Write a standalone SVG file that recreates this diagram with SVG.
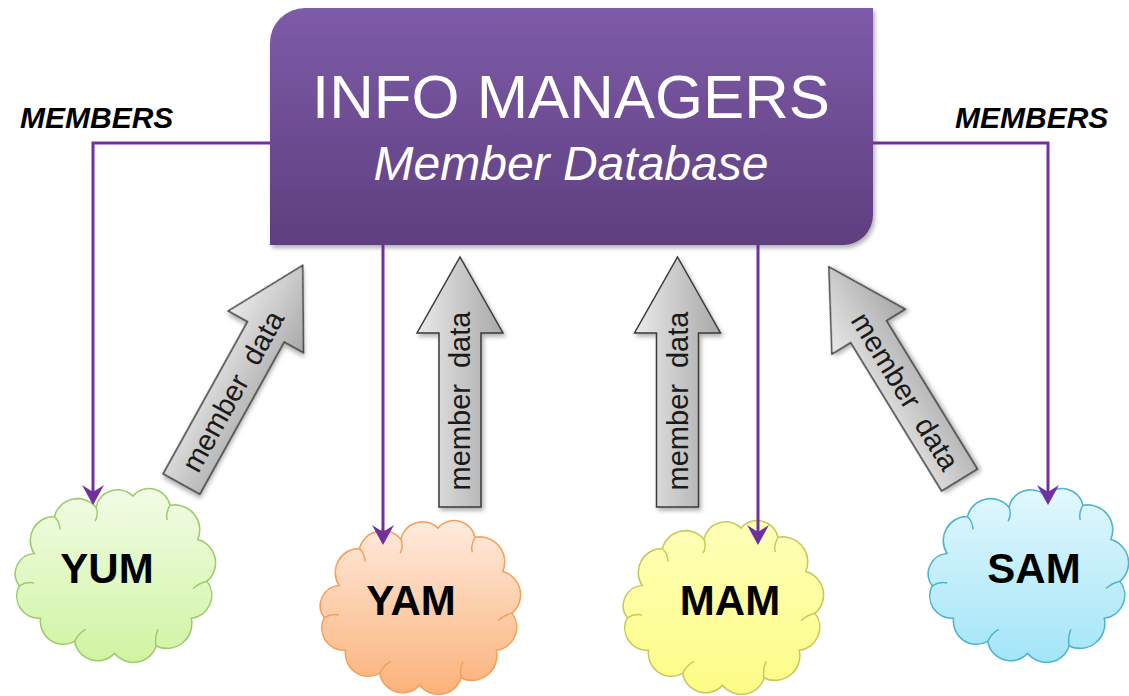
<svg xmlns="http://www.w3.org/2000/svg" xmlns:xlink="http://www.w3.org/1999/xlink" width="1129" height="696" viewBox="0 0 1129 696">
<style>
.cl-text{font-family:"Liberation Sans",Arial,sans-serif;font-weight:bold;font-size:42px;fill:#000;text-anchor:middle}
.members{font-family:"Liberation Sans",Arial,sans-serif;font-weight:bold;font-style:italic;font-size:30px;fill:#000}
.md{font-family:"Liberation Sans",Arial,sans-serif;font-size:29px;fill:#1a1a1a;text-anchor:middle;word-spacing:8px}
.conn{fill:none;stroke:#7030A0;stroke-width:3}
.barrow{fill:url(#gGray);stroke:#3a3a3a;stroke-width:1.5;stroke-linejoin:miter}
.crease{fill:none;stroke-width:1.6}
</style>
<defs>
<linearGradient id="gBox" x1="0" y1="0" x2="0" y2="1">
<stop offset="0" stop-color="#7D5BA8"/><stop offset="1" stop-color="#5E3F7F"/>
</linearGradient>
<linearGradient id="gGray" x1="0" y1="0" x2="1" y2="0">
<stop offset="0" stop-color="#EAEAEA"/><stop offset="1" stop-color="#A8A8A8"/>
</linearGradient>
<linearGradient id="gYum" x1="0" y1="0" x2="0" y2="1"><stop offset="0" stop-color="#F2FCE6"/><stop offset="1" stop-color="#D0F4A2"/></linearGradient>
<linearGradient id="gYam" x1="0" y1="0" x2="0" y2="1"><stop offset="0" stop-color="#FEEBDD"/><stop offset="1" stop-color="#FBB27A"/></linearGradient>
<linearGradient id="gMam" x1="0" y1="0" x2="0" y2="1"><stop offset="0" stop-color="#FFFFB8"/><stop offset="1" stop-color="#FDFC86"/></linearGradient>
<linearGradient id="gSam" x1="0" y1="0" x2="0" y2="1"><stop offset="0" stop-color="#E2F8FD"/><stop offset="1" stop-color="#A3E5F8"/></linearGradient>
<filter id="sh" x="-10%" y="-10%" width="130%" height="130%"><feDropShadow dx="2" dy="3" stdDeviation="2" flood-color="#000" flood-opacity="0.3"/></filter>
<path id="cloud" d="M18,70 A26,26 0 0 1 40,30 A26,26 0 0 1 85,20 A24,24 0 0 1 125,8 A23,23 0 0 1 165,18 A27,27 0 0 1 195,55 A26,26 0 0 1 205,100 A25,25 0 0 1 188,140 A27,27 0 0 1 150,170 A26,26 0 0 1 105,178 A25,25 0 0 1 62,165 A25,25 0 0 1 25,140 A24,24 0 0 1 2,105 A22,22 0 0 1 18,70 Z"/>
<path id="creases" d="M85,20 Q88,28 84,35 M165,18 Q160,26 162,34 M205,100 Q196,102 190,108 M150,170 Q148,160 152,152 M62,165 Q66,156 74,152 M2,105 Q10,100 18,102 M40,30 Q46,36 46,44"/>
<path id="barrow" d="M-21,0 L-21,-174 L-43,-174 L0,-250 L43,-174 L21,-174 L21,0 Z"/>
<marker id="ah" viewBox="-24 -12 26 24" refX="-3" refY="0" markerWidth="26" markerHeight="24" markerUnits="userSpaceOnUse" orient="auto">
<path d="M0,0 L-20,-11 L-13,0 L-20,11 Z" fill="#7030A0"/>
</marker>
</defs>
<rect width="1129" height="696" fill="#fff"/>

<g id="yum">
<g transform="translate(17.4,488.7) scale(0.925)">
<use xlink:href="#cloud" fill="url(#gYum)" stroke="#9DCC6C" stroke-width="1.7"/>
<use xlink:href="#creases" class="crease" stroke="#9DCC6C"/>
</g>
<text class="cl-text" x="107" y="583">YUM</text>
</g>
<g id="yam">
<g transform="translate(322.4,520.7) scale(0.925)">
<use xlink:href="#cloud" fill="url(#gYam)" stroke="#F5A05A" stroke-width="1.7"/>
<use xlink:href="#creases" class="crease" stroke="#F5A05A"/>
</g>
<text class="cl-text" x="411" y="615">YAM</text>
</g>
<g id="mam">
<g transform="translate(625.4,520.7) scale(0.925)">
<use xlink:href="#cloud" fill="url(#gMam)" stroke="#C2CB5C" stroke-width="1.7"/>
<use xlink:href="#creases" class="crease" stroke="#C2CB5C"/>
</g>
<text class="cl-text" x="730" y="615">MAM</text>
</g>
<g id="sam">
<g transform="translate(930.4,488.7) scale(0.925)">
<use xlink:href="#cloud" fill="url(#gSam)" stroke="#4FB3CF" stroke-width="1.7"/>
<use xlink:href="#creases" class="crease" stroke="#4FB3CF"/>
</g>
<text class="cl-text" x="1034" y="583">SAM</text>
</g>

<g id="info-managers">
<path d="M305,8 H873 V215 A30,30 0 0 1 843,245 H270 V43 A35,35 0 0 1 305,8 Z" fill="url(#gBox)" filter="url(#sh)"/>
<text x="571" y="118" text-anchor="middle" font-family="'Liberation Sans',Arial,sans-serif" font-size="61" fill="#fff" textLength="518" lengthAdjust="spacingAndGlyphs">INFO MANAGERS</text>
<text x="571" y="180" text-anchor="middle" font-family="'Liberation Sans',Arial,sans-serif" font-style="italic" font-size="48" fill="#fff">Member Database</text>
</g>

<g id="members-left"><text class="members" x="20" y="128">MEMBERS</text></g>
<g id="members-right"><text class="members" x="955" y="128">MEMBERS</text></g>

<g id="data-yum" transform="translate(181.5,484) rotate(29)">
<use xlink:href="#barrow" class="barrow" filter="url(#sh)"/>
<text class="md" transform="translate(0,-106) rotate(-90)" y="10">member data</text>
</g>
<g id="data-yam" transform="translate(460,507)">
<use xlink:href="#barrow" class="barrow" filter="url(#sh)"/>
<text class="md" transform="translate(0,-106) rotate(-90)" y="10">member data</text>
</g>
<g id="data-mam" transform="translate(677.5,507)">
<use xlink:href="#barrow" class="barrow" filter="url(#sh)"/>
<text class="md" transform="translate(0,-106) rotate(-90)" y="10">member data</text>
</g>
<g id="data-sam" transform="translate(959.5,480) rotate(-31.5)">
<use xlink:href="#barrow" class="barrow" filter="url(#sh)"/>
<text class="md" transform="translate(0,-104) rotate(90)" y="10">member data</text>
</g>

<g id="connectors">
<path class="conn" d="M270,143 H93 V502" marker-end="url(#ah)"/>
<path class="conn" d="M383,245 V542" marker-end="url(#ah)"/>
<path class="conn" d="M758,245 V542" marker-end="url(#ah)"/>
<path class="conn" d="M873,143 H1048 V502" marker-end="url(#ah)"/>
</g>
</svg>
